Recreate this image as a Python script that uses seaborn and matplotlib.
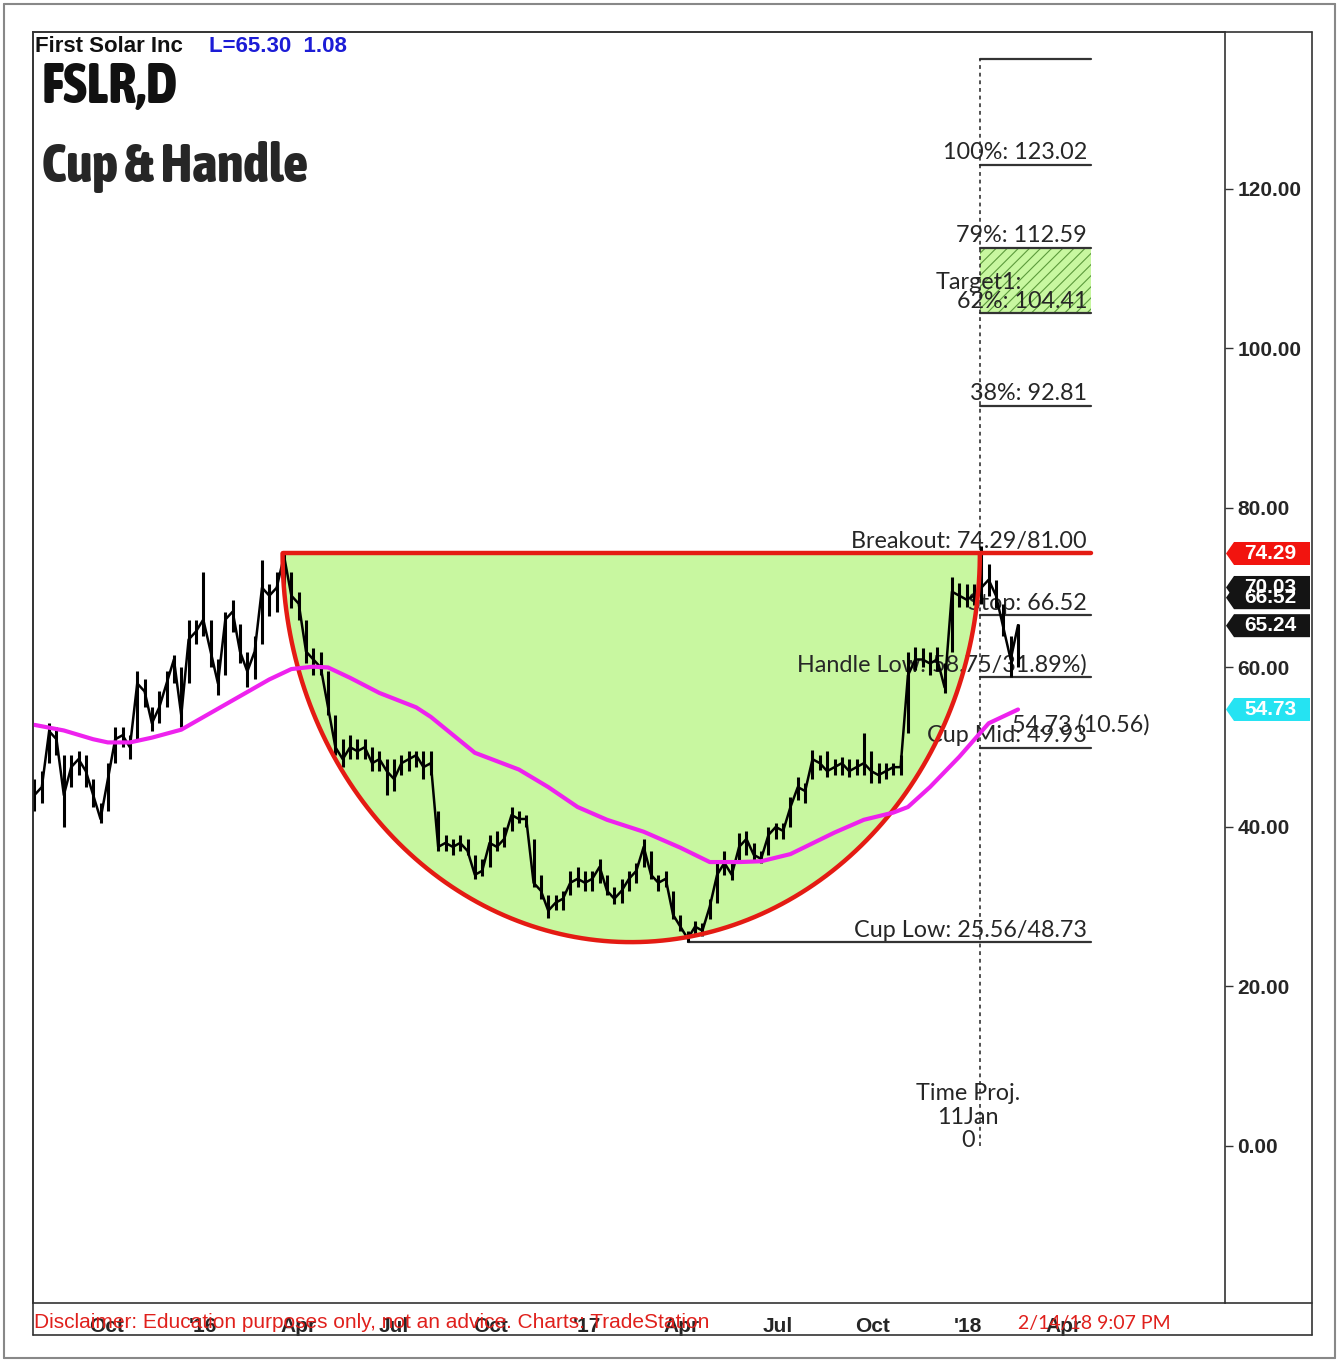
import numpy as np
import pandas as pd
import matplotlib
matplotlib.use("Agg")
import matplotlib.pyplot as plt
import seaborn as sns
from matplotlib import font_manager as fm
from matplotlib.font_manager import FontProperties
from matplotlib.transforms import blended_transform_factory
from matplotlib.patches import Polygon, Rectangle
from matplotlib.lines import Line2D

# ---------------- data ----------------
calendar_start = "2015-07-24"
calendar_end = "2018-09-14"

week_close = [44, 45, 52, 51, 44, 47.5, 48.5, 47, 44, 41,
              46, 51, 51.5, 50, 58, 57, 53, 55, 58, 61,
              54, 63.5, 64.5, 66, 62, 58, 66, 67, 62, 59.5,
              62, 70, 69, 70, 74, 69, 68, 62, 61, 60,
              55, 50, 48.5, 50, 49.5, 50, 48, 48.5, 47, 46,
              48, 48.5, 49, 47.5, 48, 37.5, 38, 37.5, 38, 37,
              34, 34.5, 38, 37.5, 38.5, 41.5, 41, 41, 33, 32,
              29.5, 30.5, 31, 33, 33.5, 33, 33.5, 35, 32, 31,
              32, 33.5, 34.5, 37.5, 34, 33, 33.5, 29, 27.5, 26,
              27.5, 27, 30, 34, 35.5, 34, 37.5, 38.5, 36.5, 36,
              39, 40, 39.5, 42.5, 45, 44.5, 48.5, 48, 47, 47.5,
              48, 47, 47.5, 48, 47, 46.5, 47, 47.5, 47.5, 59,
              61, 61, 60.5, 61, 57.5, 69.5, 69, 68.5, 69, 70,
              71, 69, 65, 61, 65.3]
week_high = [46, 47, 53, 52.5, 49, 49, 49.5, 49, 46, 43,
             48, 52.5, 52.5, 51.5, 59.5, 58.5, 55, 57, 59.5, 61.5,
             60, 66, 66, 72, 66, 61, 67, 68.5, 65.5, 62,
             64, 73.5, 70.5, 72, 74.3, 72, 69.5, 66, 62.5, 62,
             59.5, 54, 51, 51.5, 51, 51, 50, 49.5, 48.5, 48.5,
             49, 49.5, 49.5, 49.5, 49.5, 42, 39, 38.5, 39, 38.5,
             36.5, 36, 39, 39.5, 40, 42.5, 42, 41.5, 38.5, 34,
             31.5, 31.5, 32, 34.5, 35, 34.5, 34.5, 36, 34, 32.5,
             33.5, 34.5, 35.5, 38.5, 37, 34, 34.5, 32, 29, 27,
             28.2, 28, 31, 35.5, 37, 35.5, 39.3, 39.5, 38, 37,
             40, 40.5, 40.5, 43.8, 46.3, 45.5, 49.7, 49, 49.5, 48.5,
             48.8, 48.5, 48.5, 51.8, 49.5, 48, 48, 48, 49, 61.9,
             62.6, 62.5, 62, 62.6, 60.5, 71.4, 70.6, 70.5, 70.5, 75.2,
             73, 71, 68, 64, 65.5]
week_low = [42, 43, 48, 49, 40, 45, 46.5, 45, 42.5, 40.5,
            42, 48, 50, 48.5, 51, 55, 52, 53, 55, 58,
            52.5, 58, 63, 64, 60, 56.5, 59, 64.5, 60.5, 57.5,
            58.5, 63, 66.5, 67, 69, 67.5, 66, 60.5, 59, 59,
            54, 49, 47.5, 48.5, 48.5, 48.5, 47, 47, 44, 44.5,
            46.5, 47, 47.5, 46, 46.5, 37, 37, 36.5, 37, 36.5,
            33.5, 33.8, 35, 37, 37.5, 39.5, 40.5, 40, 32.5, 31,
            28.6, 29.6, 29.6, 31.5, 32.5, 32, 32, 33, 31.5, 30.3,
            30.5, 32, 33, 35, 33.5, 32, 32.5, 28.5, 27, 25.6,
            26.3, 26.3, 28.5, 30.5, 34, 33.3, 35.5, 36.5, 35.8, 35.5,
            36.5, 38.5, 38.5, 40, 43.4, 43, 46, 47.2, 46.3, 46.5,
            46.5, 46.3, 46.5, 46.5, 45.5, 45.5, 46, 46.5, 46.5, 51.8,
            59.7, 60, 59, 59.5, 56.8, 62, 67.6, 67.6, 67.8, 68,
            69, 67.5, 64, 58.8, 60]

ma_week = [0, 4, 8, 10, 13, 16, 20, 24, 28, 32, 35, 38, 40, 43, 47, 52, 54, 56,
           60, 66, 70, 74, 78, 83, 88, 92, 96, 99, 103, 105, 109, 113, 117, 119,
           122, 126, 130, 134]
ma_value = [52.8, 52.1, 51.0, 50.6, 50.6, 51.2, 52.2, 54.3, 56.4, 58.5, 59.8, 60.1,
            60.0, 58.7, 56.8, 55.0, 53.8, 52.3, 49.3, 47.2, 45.0, 42.5, 40.9, 39.4,
            37.4, 35.6, 35.6, 35.7, 36.6, 37.5, 39.3, 40.9, 41.8, 42.5, 45.0, 48.8,
            53.0, 54.73]

cup_start_date = "2016-03-17"
cup_low_date = "2017-04-07"
time_proj_date = "2018-01-11"
breakout = 74.29
cup_low = 25.56
cup_mid = 49.93
stop_level = 66.52
handle_low = 58.75
fib_levels = [136.27, 123.02, 112.59, 104.41, 92.81]

quarter_dates = ["2015-10-01", "2016-01-01", "2016-04-01", "2016-07-01", "2016-10-03",
                 "2017-01-02", "2017-04-03", "2017-07-03", "2017-10-02", "2018-01-01",
                 "2018-04-02"]
quarter_labels = ["Oct", "'16", "Apr", "Jul", "Oct", "'17", "Apr", "Jul", "Oct", "'18", "Apr"]
y_ticks = [0, 20, 40, 60, 80, 100, 120]

tag_values = [74.29, 68.75, 70.03, 65.24, 54.73]
tag_texts = ["74.29", "66.52", "70.03", "65.24", "54.73"]
tag_colors = ["#f2140f", "#141414", "#141414", "#141414", "#25e3f2"]

# ---------------- style ----------------
sns.set_theme(style="white")
plt.rcParams["font.family"] = ["Liberation Sans", "DejaVu Sans"]
plt.rcParams["hatch.linewidth"] = 0.8
lato = ["Lato", "DejaVu Sans"]


def pick_condensed_bold():
    best, best_score = None, -1
    for f in fm.fontManager.ttflist:
        n = f.name
        cond = ("Condensed" in n or "Narrow" in n or
                str(f.stretch) in ("condensed", "semi-condensed", "extra-condensed",
                                   "ultra-condensed"))
        if not cond or "Mono" in n or "Serif" in n or "CJK" in n:
            continue
        try:
            w = int(f.weight)
        except Exception:
            w = 700 if "bold" in str(f.weight).lower() else 400
        if "Italic" in f.fname or f.style != "normal":
            continue
        score = 1000 - abs(w - 800)
        if score > best_score:
            best, best_score = f, score
    if best is None:
        return FontProperties(family="DejaVu Sans", weight="bold")
    return FontProperties(fname=best.fname)


big_fp = pick_condensed_bold()

W, H = 1339, 1362
fig = plt.figure(figsize=(W / 100, H / 100), dpi=100)
fig.patch.set_facecolor("white")
ax = fig.add_axes([33 / W, (H - 1303) / H, 1192 / W, 1271 / H])
ax.set_facecolor("white")

bdays = pd.bdate_range(calendar_start, calendar_end)


def bar(d):
    return int(bdays.searchsorted(pd.Timestamp(d)))


wk_x = np.arange(len(week_close)) * 5
ma_x = np.array(ma_week) * 5
cup_l = bar(cup_start_date)
tp = bar(time_proj_date)
low_x = bar(cup_low_date)
level_end = tp + 76

# cup shape
cx = (cup_l + tp) / 2.0
a = (tp - cup_l) / 2.0
b = breakout - cup_low
th = np.linspace(np.pi, 2 * np.pi, 300)
cup_x = cx + a * np.cos(th)
cup_y = breakout + b * np.sin(th)
ax.fill(cup_x, cup_y, color="#c8f7a0", zorder=1, lw=0)
ax.plot(cup_x, cup_y, color="#e41b13", lw=3.2, zorder=4, solid_capstyle="round")
ax.plot([cup_l, level_end], [breakout, breakout], color="#e41b13", lw=3.2, zorder=4)

# target box
ax.add_patch(Rectangle((tp, fib_levels[3]), level_end - tp, fib_levels[2] - fib_levels[3],
                       facecolor="#c8f7a0", edgecolor="#5c9a3c", hatch="///", lw=0, zorder=1))

# level lines
for lv in fib_levels + [stop_level, handle_low, cup_mid]:
    ax.plot([tp, level_end], [lv, lv], color="#333333", lw=1.6, zorder=2)
ax.plot([low_x, level_end], [cup_low, cup_low], color="#333333", lw=1.6, zorder=2)
ax.plot([tp, tp], [0, fib_levels[0]], color="#222222", lw=1.1, ls=(0, (2.5, 2.5)), zorder=2)

# price bars
ax.vlines(wk_x, week_low, week_high, color="black", lw=2.2, zorder=3)
sns.lineplot(x=wk_x, y=week_close, ax=ax, color="black", lw=1.8, zorder=3)
# moving average
sns.lineplot(x=ma_x, y=ma_value, ax=ax, color="#ee22ee", lw=3, zorder=5)

# level labels
txt_kw = dict(fontsize=16.8, color="#262626", family=lato, zorder=2)


def lab(text, y, dy=5.6, x=None, ha="right"):
    ax.annotate(text, xy=(level_end - 3 if x is None else x, y), xytext=(0, dy),
                textcoords="offset pixels", ha=ha, va="baseline", **txt_kw)


lab("100%: 123.02", fib_levels[1])
lab("79%: 112.59", fib_levels[2])
lab("62%: 104.41", fib_levels[3])
lab("Target1:", fib_levels[3], dy=24, x=tp + 29)
lab("38%: 92.81", fib_levels[4])
lab("Breakout: 74.29/81.00", breakout)
lab("Stop: 66.52", stop_level)
lab("Handle Low: 58.75/31.89%)", handle_low)
lab("Cup Mid: 49.93", cup_mid)
lab("Cup Low: 25.56/48.73", cup_low)
ax.text(ma_x[-1] - 4, 52.0, "54.73 (10.56)", ha="left", va="baseline", **txt_kw)
ax.text(tp - 8, 3.6, "Time Proj.\n11Jan\n0", ha="center", va="center",
        multialignment="center", linespacing=1.15, **txt_kw)

# axes
ax.set_xlim(-1, 811)
ax.set_ylim(-19.69, 139.68)
ax.yaxis.tick_right()
ax.set_yticks(y_ticks)
ax.set_yticklabels([f"{v:.2f}" for v in y_ticks], fontsize=15, fontweight="bold")
ax.set_xticks([bar(d) for d in quarter_dates])
ax.set_xticklabels(quarter_labels, fontsize=15, fontweight="bold")
month_starts = pd.date_range("2015-08-01", "2018-09-01", freq="MS")
ax.set_xticks([bar(d) for d in month_starts], minor=True)
ax.tick_params(axis="y", direction="out", length=6, width=1, color="#333", pad=3, left=False, right=True)
ax.tick_params(axis="x", which="major", direction="out", length=8, width=1, color="#333", pad=2)
ax.tick_params(axis="x", which="minor", direction="out", length=4, width=1, color="#333")
for s in ["left", "top", "right", "bottom"]:
    ax.spines[s].set_visible(True)
    ax.spines[s].set_color("#333333")
    ax.spines[s].set_linewidth(1.2)
ax.set_xlabel("")
ax.set_ylabel("")
ax.grid(False)

# price tags on the right scale
trans = blended_transform_factory(fig.transFigure, ax.transData)
hh = 11.5 / 7.975
for v, t, c in zip(tag_values, tag_texts, tag_colors):
    x0, x1, x2 = 1226 / W, 1234 / W, 1310 / W
    poly = Polygon([[x0, v], [x1, v + hh], [x2, v + hh], [x2, v - hh], [x1, v - hh]],
                   closed=True, transform=trans, facecolor=c, edgecolor="none",
                   clip_on=False, zorder=10)
    fig.add_artist(poly)
    fig.text(1270 / W, v, t, transform=trans, ha="center", va="center", color="white",
             fontsize=15, fontweight="bold", zorder=11)


# frames
def fline(x0, y0, x1, y1, c="#333333", lw=1.2):
    fig.add_artist(Line2D([x0 / W, x1 / W], [1 - y0 / H, 1 - y1 / H], color=c, lw=lw,
                          transform=fig.transFigure))


fline(33, 32, 1312, 32)
fline(1312, 32, 1312, 1335)
fline(33, 1335, 1312, 1335)
fline(33, 32, 33, 1335)
fline(1225, 1303, 1312, 1303)
fline(4, 4, 1335, 4, c="#888888", lw=1.5)
fline(1335, 4, 1335, 1358, c="#888888", lw=1.5)
fline(4, 1358, 1335, 1358, c="#888888", lw=1.5)
fline(4, 4, 4, 1358, c="#888888", lw=1.5)

# header
fig.text(35 / W, 1 - 47 / H, "First Solar Inc", ha="left", va="center", fontsize=16,
         fontweight="bold", color="#111111")
fig.text(209 / W, 1 - 47 / H, "L=65.30  1.08", ha="left", va="center", fontsize=16,
         fontweight="bold", color="#1c1cd6")

renderer = fig.canvas.get_renderer()


def fitted_text(x, y, s, target_w, max_size, color):
    t = fig.text(x / W, 1 - y / H, s, ha="left", va="baseline", fontproperties=big_fp,
                 color=color)
    t.set_fontsize(max_size)
    w = t.get_window_extent(renderer).width
    if w > target_w:
        t.set_fontsize(max_size * target_w / w)
    return t


fitted_text(42, 103, "FSLR,D", 140, 40, "#111111")
fitted_text(42, 182, "Cup & Handle", 266, 40, "#262626")

# footer
fig.text(34 / W, 1 - 1323 / H, "Disclaimer: Education purposes only, not an advice. Charts: TradeStation",
         ha="left", va="center", fontsize=15, color="#e0201c")
fig.text(1018 / W, 1 - 1323 / H, "2/14/18 9:07 PM", ha="left", va="center", fontsize=14,
         color="#e0201c", family=lato)

fig.savefig("out.png", dpi=100)
